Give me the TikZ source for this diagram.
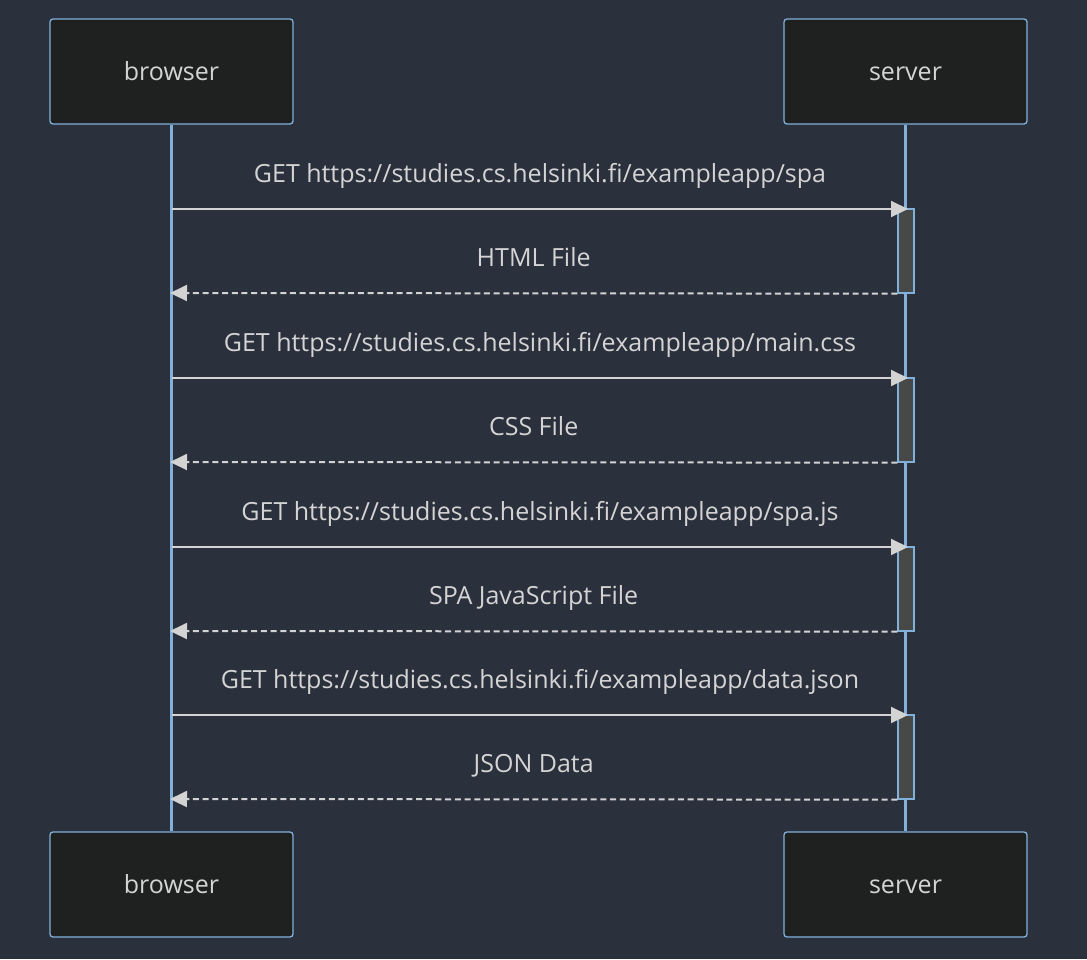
\documentclass[tikz,border=0pt]{standalone}
\usepackage{fontspec}
\setmainfont{Open Sans}
\usetikzlibrary{positioning,arrows.meta}
\definecolor{bgcol}{HTML}{2A303C}
\definecolor{boxfill}{HTML}{1F2020}
\definecolor{lineblue}{HTML}{81B1DB}
\definecolor{txtcol}{HTML}{D4D4D4}
\definecolor{msgcol}{HTML}{D3D3D3}
\definecolor{actfill}{HTML}{474949}
\tikzset{
  actor/.style={draw=lineblue, fill=boxfill, rounded corners=3pt, line width=1.3pt,
    minimum width=243pt, minimum height=105pt, text=txtcol, font=\fontsize{25}{28}\selectfont,
    text height=23.5pt, text depth=5pt},
  lifeline/.style={draw=lineblue, line width=2.5pt},
  actbar/.style={draw=lineblue, fill=actfill, line width=1.3pt, minimum width=16pt, inner sep=0pt},
  msg/.style={draw=msgcol, line width=2pt, -{Triangle[length=17pt,width=16pt]}},
  reply/.style={msg, dash pattern=on 6pt off 3.7pt},
  msglabel/.style={text=txtcol, font=\fontsize{25}{28}\selectfont, text height=23.5pt, text depth=5pt,
    yshift=36pt}
}

\begin{document}
\begin{tikzpicture}[x=1pt,y=-1pt]
			%%%%% START %%%%%
			
			\fill[bgcol] (0,0) rectangle (1087,959);
			
			\node[actor] (browserTop) at (171.5,71.5) {browser};
			\node[actor] (serverTop) at (905.5,71.5) {server};
			\node[actor] (browserBot) at (171.5,884.5) {browser};
			\node[actor] (serverBot) at (905.5,884.5) {server};
			
			\draw[lifeline] (browserTop) -- (browserBot);
			\draw[lifeline] (serverTop) -- (serverBot);
			
			\node[actbar, minimum height=84pt] (actSpa) at (906,251) {};
			\node[actbar, minimum height=84pt] (actCss) at (906,420) {};
			\node[actbar, minimum height=84pt] (actJs) at (906,589) {};
			\node[actbar, minimum height=84pt] (actJson) at (906,757) {};
			
			\coordinate (bSpa) at (172,209);
			\coordinate (sSpa) at (908,209);
			\coordinate (bHtml) at (170,293);
			\draw[msg] (bSpa) -- node[msglabel] (lblSpa) {GET https://studies.cs.helsinki.fi/exampleapp/spa} (sSpa);
			\draw[reply] (actSpa.south west) -- node[msglabel] (lblHtml) {HTML File} (bHtml);
			
			\coordinate (bCss) at (172,378);
			\coordinate (sCss) at (908,378);
			\coordinate (bCssFile) at (170,462);
			\draw[msg] (bCss) -- node[msglabel] (lblCss) {GET https://studies.cs.helsinki.fi/exampleapp/main.css} (sCss);
			\draw[reply] (actCss.south west) -- node[msglabel] (lblCssFile) {CSS File} (bCssFile);
			
			\coordinate (bJs) at (172,547);
			\coordinate (sJs) at (908,547);
			\coordinate (bJsFile) at (170,631);
			\draw[msg] (bJs) -- node[msglabel] (lblJs) {GET https://studies.cs.helsinki.fi/exampleapp/spa.js} (sJs);
			\draw[reply] (actJs.south west) -- node[msglabel] (lblJsFile) {SPA JavaScript File} (bJsFile);
			
			\coordinate (bJson) at (172,715);
			\coordinate (sJson) at (908,715);
			\coordinate (bData) at (170,799);
			\draw[msg] (bJson) -- node[msglabel] (lblJson) {GET https://studies.cs.helsinki.fi/exampleapp/data.json} (sJson);
			\draw[reply] (actJson.south west) -- node[msglabel] (lblData) {JSON Data} (bData);
			
			%%%%% END %%%%%
\end{tikzpicture}
\end{document}
